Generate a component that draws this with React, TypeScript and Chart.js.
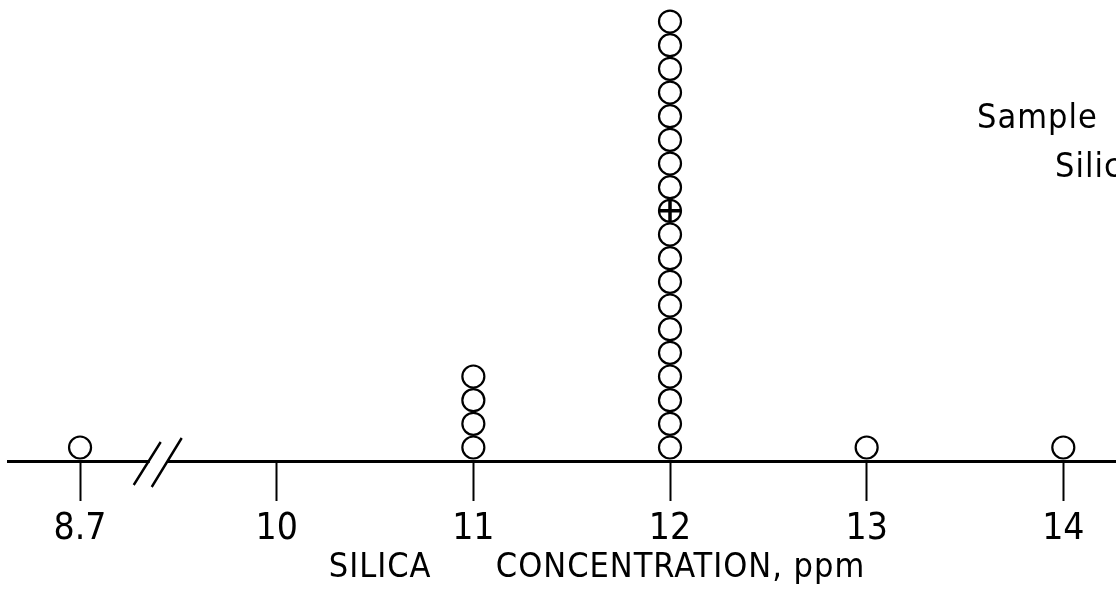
import React, { useEffect, useRef } from "react";
import { Chart, registerables } from "chart.js";

Chart.register(...registerables);

// ---- data ----
const CONCENTRATIONS = [8.7, 11, 12, 13, 14]; // ppm
const COUNTS = [1, 4, 19, 1, 1]; // number of samples at each concentration
const TICK_VALUES = [8.7, 10, 11, 12, 13, 14];
const TICK_LABELS = ["8.7", "10", "11", "12", "13", "14"];
const MARKED_CONCENTRATION = 12; // sample marked with a cross
const MARKED_RANK = 11; // its position in the stack
const X_TITLE = "SILICA      CONCENTRATION, ppm";
const NOTE_LINE_1 = "Sample";
const NOTE_LINE_2 = "Silica";

// axis break: values below 10 are drawn one unit to the left of 10
const BREAK_LOW = 8.7;
const BREAK_DISPLAY = 9;
const pos = (v: number) => (v < 10 ? BREAK_DISPLAY + (v - BREAK_LOW) : v);

const FONT = '"Liberation Sans Narrow", "DejaVu Sans Condensed", "Liberation Sans", sans-serif';

const dotPoints: { x: number; y: number }[] = [];
CONCENTRATIONS.forEach((c, i) => {
  for (let k = 1; k <= COUNTS[i]; k++) dotPoints.push({ x: pos(c), y: k });
});
const markedPoints = [{ x: pos(MARKED_CONCENTRATION), y: MARKED_RANK }];

const annotationPlugin = {
  id: "annotations",
  afterDraw(chart: any) {
    const ctx = chart.ctx as CanvasRenderingContext2D;
    const xs = chart.scales.x;
    const bottom = chart.chartArea.bottom;
    ctx.save();
    // axis break
    const bx = xs.getPixelForValue((BREAK_DISPLAY + 10) / 2 - 0.1);
    ctx.fillStyle = "#fff";
    ctx.fillRect(bx - 9, bottom - 3, 18, 6);
    ctx.strokeStyle = "#000";
    ctx.lineWidth = 2.4;
    ctx.beginPath();
    ctx.moveTo(bx - 25, bottom + 24);
    ctx.lineTo(bx + 2, bottom - 19);
    ctx.moveTo(bx - 7, bottom + 26);
    ctx.lineTo(bx + 23, bottom - 23);
    ctx.stroke();

    // texts
    ctx.fillStyle = "#000";
    ctx.textBaseline = "alphabetic";
    ctx.font = `34px ${FONT}`;
    (ctx as any).letterSpacing = "1px";
    ctx.textAlign = "center";
    ctx.fillText(X_TITLE, 597, 577);
    ctx.textAlign = "left";
    (ctx as any).letterSpacing = "1px";
    ctx.fillText(NOTE_LINE_1, 977, 128);
    ctx.fillText(NOTE_LINE_2, 1055, 177);
    ctx.restore();
  },
};

export default function App() {
  const ref = useRef<HTMLCanvasElement | null>(null);
  useEffect(() => {
    if (!ref.current) return;
    const chart = new Chart(ref.current, {
      type: "scatter",
      data: {
        datasets: [
          {
            data: markedPoints,
            pointStyle: "cross",
            pointRadius: 11,
            borderWidth: 3.5,
            borderColor: "#000",
            backgroundColor: "#000",
          },
          {
            data: dotPoints,
            pointStyle: "circle",
            pointRadius: 11,
            borderWidth: 2.2,
            borderColor: "#000",
            backgroundColor: "rgba(0,0,0,0)",
          },
        ],
      },
      options: {
        animation: false,
        responsive: true,
        maintainAspectRatio: false,
        layout: { autoPadding: false, padding: { left: 8, right: 0, top: 0, bottom: 0 } },
        plugins: { legend: { display: false }, tooltip: { enabled: false } },
        scales: {
          x: {
            type: "linear",
            min: 10 - (276.7 - 8) / 196.65,
            max: 10 + (1116 - 276.7) / 196.65,
            afterBuildTicks: (scale: any) => {
              scale.ticks = TICK_VALUES.map((v) => ({ value: pos(v) }));
            },
            afterFit: (scale: any) => {
              scale.height = 129;
              scale.paddingLeft = 0;
              scale.paddingRight = 0;
            },
            ticks: {
              callback: (_v: any, i: number) => TICK_LABELS[i],
              color: "#000",
              font: { family: FONT, size: 37 },
              padding: 6,
              maxRotation: 0,
              autoSkip: false,
            },
            grid: {
              drawOnChartArea: false,
              drawTicks: true,
              tickLength: 40,
              tickWidth: 2,
              tickColor: "#000",
              color: "#000",
            },
            border: { display: true, color: "#000", width: 3 },
          },
          y: {
            display: false,
            min: 0.43,
            max: 19.91,
          },
        },
      },
      plugins: [annotationPlugin],
    });
    return () => chart.destroy();
  }, []);
  return (
    <div style={{ position: "fixed", left: 0, top: 0, width: 1116, height: 590, background: "#fff" }}>
      <canvas ref={ref} />
    </div>
  );
}
